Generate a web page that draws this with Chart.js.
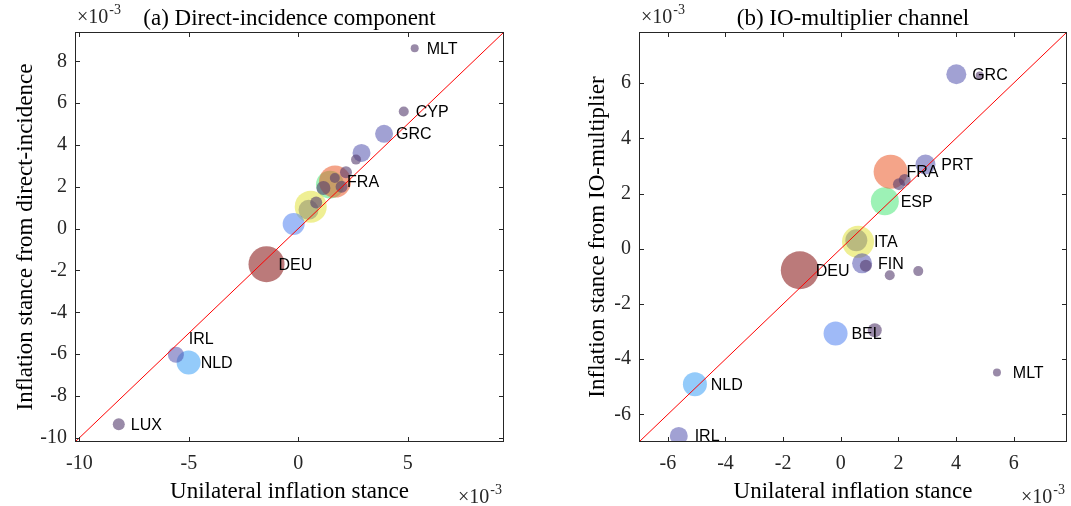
<!DOCTYPE html>
<html><head><meta charset="utf-8">
<script src="https://cdn.jsdelivr.net/npm/chart.js@4.4.0/dist/chart.umd.min.js"></script>
<style>
html,body{margin:0;padding:0;background:#fff;}
#wrap{position:relative;width:1071px;height:506px;overflow:hidden;}
canvas{position:absolute;top:0;}
</style></head><body>
<div id="wrap">
<canvas id="c1" width="535" height="506" style="left:0;width:535px;height:506px"></canvas>
<canvas id="c2" width="536" height="506" style="left:535px;width:536px;height:506px"></canvas>
</div>
<script>
// ---------- Panel (a): direct-incidence component (values x1e-3) ----------
const directLabels = ["DEU","","FRA","","NLD","","","GRC","","IRL","","","","","","","MLT","CYP","LUX"];
const directGroup  = ["DEU","ESP","FRA","ITA","NLD","BEL","gray","mid","mid","mid","small","small","small","small","small","small","small","small","small"];
const directX = [-1.45, 1.45, 1.68, 0.57, -5.01, -0.21, 0.47, 3.92, 2.89, -5.59, 2.64, 2.18, 1.67, 1.98, 1.15, 0.82, 5.32, 4.82, -8.20];
const directY = [-1.70, 2.10, 2.25, 1.05, -6.40, 0.22, 0.90, 4.53, 3.62, -6.03, 3.30, 2.69, 2.42, 2.00, 1.94, 1.25, 8.62, 5.60, -9.35];
const directSize = [18, 14, 16, 16, 12, 11, 10, 9, 9, 8, 5, 6, 5, 6, 7, 6, 4, 5, 6];
const directXTicks = [-10, -5, 0, 5];
const directYTicks = [-10, -8, -6, -4, -2, 0, 2, 4, 6, 8];
const directRange = [-10.2, 9.4];

// ---------- Panel (b): IO-multiplier channel (values x1e-3) ----------
const ioLabels = ["DEU","ESP","FRA","ITA","NLD","BEL","","GRC","PRT","FIN","IRL","","","","","","","","MLT"];
const ioGroup  = ["DEU","ESP","FRA","ITA","NLD","BEL","gray","mid","mid","mid","mid","small","small","small","small","small","small","small","small"];
const ioX = [-1.42, 1.53, 1.73, 0.60, -5.06, -0.18, 0.54, 4.01, 2.94, 0.74, -5.62, 4.82, 2.22, 2.02, 0.87, 1.70, 2.69, 1.18, 5.42];
const ioY = [-0.78, 1.72, 2.79, 0.25, -4.91, -3.07, 0.31, 6.32, 3.05, -0.53, -6.78, 6.27, 2.49, 2.34, -0.62, -0.96, -0.81, -2.95, -4.48];
const ioSize = [19, 14, 17, 16, 12, 12, 11, 10, 10, 10, 9, 4, 6, 6, 6, 5, 5, 7, 4];
const ioXTicks = [-6, -4, -2, 0, 2, 4, 6];
const ioYTicks = [-6, -4, -2, 0, 2, 4, 6];
const ioRange = [-7.0, 7.85];

// ---------- styling ----------
const palette = {
  DEU: "rgba(150,50,50,0.65)",
  FRA: "rgba(235,90,40,0.55)",
  ESP: "rgba(60,230,110,0.5)",
  ITA: "rgba(225,225,60,0.55)",
  NLD: "rgba(60,160,245,0.55)",
  BEL: "rgba(80,130,240,0.55)",
  mid: "rgba(75,75,170,0.52)",
  gray: "rgba(90,90,90,0.35)",
  small: "rgba(85,60,110,0.6)"
};
const SERIF = "'Liberation Serif','Times New Roman',serif";
const SANS = "'Liberation Sans',Arial,sans-serif";
const AX = "#262626";

const panelPlugin = {
  id: 'panelDecor',
  afterDatasetsDraw(chart, args, o) {
    const ctx = chart.ctx;
    const xs = chart.scales.x, ys = chart.scales.y;
    ctx.save();
    ctx.font = "16px " + SANS;
    ctx.fillStyle = "#000";
    ctx.textAlign = "left";
    ctx.textBaseline = "middle";
    o.labels.forEach((lab, i) => {
      if (!lab) return;
      const off = (o.special && o.special[lab]) || [0.55, 0];
      const px = xs.getPixelForValue(o.xs[i] + off[0]);
      const py = ys.getPixelForValue(o.ys[i] + off[1]);
      ctx.fillText(lab, px, py + 1);
    });
    ctx.restore();
  },
  afterDraw(chart, args, o) {
    const ctx = chart.ctx, ca = chart.chartArea;
    const xs = chart.scales.x, ys = chart.scales.y;
    ctx.save();
    ctx.strokeStyle = AX;
    ctx.lineWidth = 1;
    ctx.strokeRect(Math.round(ca.left) + 0.5, Math.round(ca.top) + 0.5,
                   Math.round(ca.right - ca.left) - 1, Math.round(ca.bottom - ca.top) - 1);
    const tl = 5;
    ctx.beginPath();
    xs.ticks.forEach(t => {
      const p = Math.round(xs.getPixelForValue(t.value)) + 0.5;
      ctx.moveTo(p, ca.bottom); ctx.lineTo(p, ca.bottom - tl);
      ctx.moveTo(p, ca.top); ctx.lineTo(p, ca.top + tl);
    });
    ys.ticks.forEach(t => {
      const p = Math.round(ys.getPixelForValue(t.value)) + 0.5;
      ctx.moveTo(ca.left, p); ctx.lineTo(ca.left + tl, p);
      ctx.moveTo(ca.right, p); ctx.lineTo(ca.right - tl, p);
    });
    ctx.stroke();
    const cx = (ca.left + ca.right) / 2;
    ctx.fillStyle = "#000";
    ctx.textAlign = "center";
    ctx.textBaseline = "alphabetic";
    ctx.font = "23px " + SERIF;
    ctx.fillText(o.title, cx, 25);
    ctx.fillText(o.xTitle, cx, 498);
    ctx.save();
    ctx.translate(o.yTitleX, (ca.top + ca.bottom) / 2);
    ctx.rotate(-Math.PI / 2);
    ctx.fillText(o.yTitle, 0, 0);
    ctx.restore();
    ctx.fillStyle = AX;
    const expo = (x, y) => {
      ctx.textAlign = "left";
      ctx.font = "20px " + SERIF;
      ctx.fillText("\u00d710", x, y);
      const w = ctx.measureText("\u00d710").width;
      ctx.font = "14px " + SERIF;
      ctx.fillText("-3", x + w + 1, y - 9);
    };
    expo(ca.left + 2, 23);
    expo(ca.right - 46, 503);
    ctx.restore();
  }
};

function makePanel(id, cfg) {
  const pts = cfg.xs.map((x, i) => ({x: x, y: cfg.ys[i]}));
  const r0 = cfg.range[0], r1 = cfg.range[1];
  new Chart(document.getElementById(id), {
    type: 'scatter',
    data: {
      datasets: [
        {
          data: [{x: r0, y: r0}, {x: r1, y: r1}],
          borderColor: 'rgb(255,0,0)',
          backgroundColor: 'rgb(255,0,0)',
          borderWidth: 1,
          pointRadius: 0,
          showLine: true,
          fill: false,
          order: -1
        },
        {
          data: pts,
          pointRadius: cfg.size,
          pointHoverRadius: cfg.size,
          pointBackgroundColor: cfg.group.map(g => palette[g]),
          pointBorderColor: 'rgba(0,0,0,0)',
          borderColor: 'rgba(0,0,0,0)',
          pointBorderWidth: 0,
          borderWidth: 0,
          showLine: false,
          order: 1
        }
      ]
    },
    options: {
      responsive: false,
      animation: false,
      events: [],
      layout: {autoPadding: false, padding: {top: 32, right: cfg.padRight, left: 0, bottom: 0}},
      plugins: {
        legend: {display: false},
        tooltip: {enabled: false},
        panelDecor: {
          labels: cfg.labels, xs: cfg.xs, ys: cfg.ys,
          title: cfg.title, xTitle: "Unilateral inflation stance", yTitle: cfg.yTitle,
          yTitleX: cfg.yTitleX, special: cfg.special
        }
      },
      scales: {
        x: {
          type: 'linear', min: r0, max: r1,
          grid: {display: false, drawTicks: false},
          border: {display: false},
          ticks: {font: {family: SERIF, size: 20}, color: AX, padding: 10, maxRotation: 0, autoSkip: false,
                  callback: v => String(v)},
          afterBuildTicks: s => { s.ticks = cfg.xTicks.map(v => ({value: v})); },
          afterFit: s => { s.height = 64; s.paddingLeft = 0; s.paddingRight = 0; }
        },
        y: {
          type: 'linear', min: r0, max: r1,
          grid: {display: false, drawTicks: false},
          border: {display: false},
          ticks: {font: {family: SERIF, size: 20}, color: AX, padding: 8, autoSkip: false,
                  callback: v => String(v)},
          afterBuildTicks: s => { s.ticks = cfg.yTicks.map(v => ({value: v})); },
          afterFit: s => { s.width = cfg.yWidth; s.paddingTop = 0; s.paddingBottom = 0; }
        }
      }
    },
    plugins: [panelPlugin]
  });
}

makePanel('c1', {
  labels: directLabels, group: directGroup, xs: directX, ys: directY, size: directSize,
  xTicks: directXTicks, yTicks: directYTicks, range: directRange,
  title: "(a) Direct-incidence component", yTitle: "Inflation stance from direct-incidence",
  yWidth: 75, padRight: 31, yTitleX: 32, special: {IRL: [0.59, 0.77]}
});
makePanel('c2', {
  labels: ioLabels, group: ioGroup, xs: ioX, ys: ioY, size: ioSize,
  xTicks: ioXTicks, yTicks: ioYTicks, range: ioRange,
  title: "(b) IO-multiplier channel", yTitle: "Inflation stance from IO-multiplier",
  yWidth: 104, padRight: 4, yTitleX: 69, special: {}
});
</script>
</body></html>
